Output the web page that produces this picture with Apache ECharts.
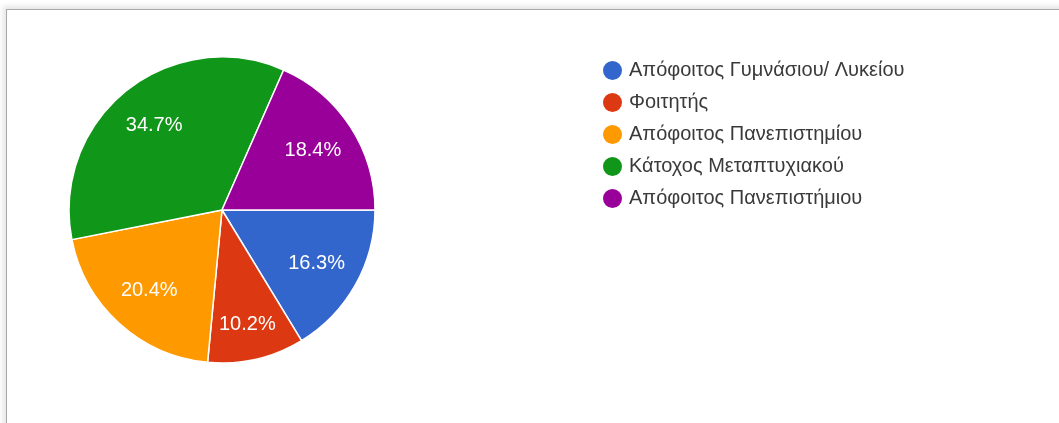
<!DOCTYPE html>
<html>
<head>
<meta charset="utf-8">
<script src="https://cdn.jsdelivr.net/npm/echarts@6/dist/echarts.min.js"></script>
<style>
  html, body { margin: 0; padding: 0; background: #ffffff; }
  body { width: 1059px; height: 423px; position: relative; overflow: hidden; }
  #card {
    position: absolute; left: 6px; top: 9px; width: 1070px; height: 430px;
    border-top: 1px solid #a9a9a9; border-left: 1px solid #a9a9a9;
    box-shadow: -3px -3px 5px rgba(0,0,0,0.10);
    background: #ffffff;
  }
  #chart { position: absolute; left: 0; top: 0; width: 1059px; height: 423px; }
</style>
</head>
<body>
<div id="card"></div>
<div id="chart"></div>
<script>
// Education level of respondents (share of answers, %)
const categories = [
  'Απόφοιτος Γυμνάσιου/ Λυκείου',
  'Φοιτητής',
  'Απόφοιτος Πανεπιστημίου',
  'Κάτοχος Μεταπτυχιακού',
  'Απόφοιτος Πανεπιστήμιου'
];
const shares = [16.3, 10.2, 20.4, 34.7, 18.4];
const colors = ['#3366cc', '#dc3912', '#ff9900', '#109618', '#990099'];

const pieData = categories.map((name, i) => ({ name, value: shares[i] }));

// the narrowest slice gets its label pushed a little further out
const minShare = Math.min(...shares);
const labelData = pieData.map(d => d.value === minShare
  ? Object.assign({}, d, { label: { offset: [1, 9] } })
  : d);

const chart = echarts.init(document.getElementById('chart'), null, { renderer: 'canvas' });
chart.setOption({
  animation: false,
  color: colors,
  legend: {
    orient: 'vertical',
    left: 596,
    top: 54,
    icon: 'circle',
    itemWidth: 21,
    itemHeight: 21,
    itemGap: 9,
    selectedMode: false,
    data: categories,
    textStyle: {
      fontFamily: 'Arial, "Liberation Sans", sans-serif',
      fontSize: 20,
      lineHeight: 21,
      color: '#3a3a3a',
      padding: [0, 0, 0, 1]
    }
  },
  series: [
    {
      // the slices
      type: 'pie',
      center: [222, 210],
      radius: [0, 153],
      startAngle: 0,
      clockwise: true,
      silent: true,
      data: pieData,
      itemStyle: { borderColor: '#ffffff', borderWidth: 1.5 },
      label: { show: false },
      labelLine: { show: false }
    },
    {
      // percentage labels sitting at about two thirds of the radius
      type: 'pie',
      center: [222, 210],
      radius: [58, 153],
      startAngle: 0,
      clockwise: true,
      silent: true,
      data: labelData,
      itemStyle: { color: 'rgba(0,0,0,0)', borderWidth: 0 },
      label: {
        show: true,
        position: 'inside',
        formatter: p => p.value.toFixed(1) + '%',
        color: '#ffffff',
        fontFamily: 'Arial, "Liberation Sans", sans-serif',
        fontSize: 20
      },
      labelLine: { show: false }
    }
  ]
});
</script>
</body>
</html>
